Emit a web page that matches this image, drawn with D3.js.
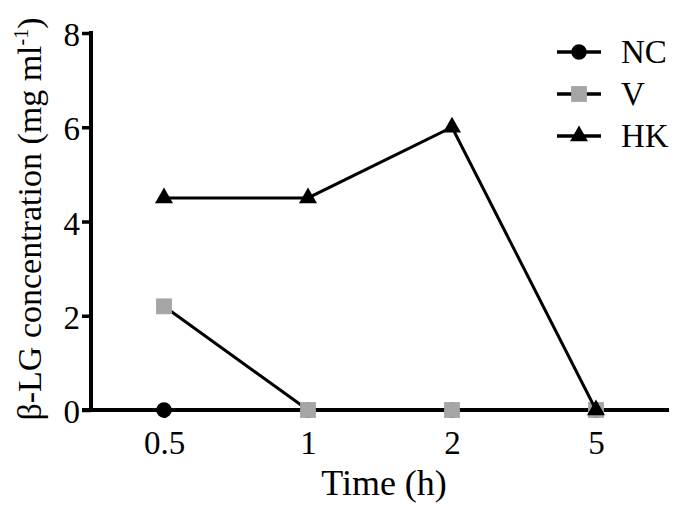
<!DOCTYPE html>
<html>
<head>
<meta charset="utf-8">
<script src="https://cdn.jsdelivr.net/npm/d3@7"></script>
<style>
  body { margin: 0; background: #fff; }
  text { font-family: "Liberation Serif", "Times New Roman", serif; fill: #000; }
</style>
</head>
<body>
<svg id="chart" width="680" height="512"></svg>
<script>
const times = ['0.5', '1', '2', '5'];
const ncValues = [0, 0, 0, 0];
const vValues = [2.2, 0, 0, 0];
const hkValues = [4.5, 4.5, 6.0, 0];
const yTicks = [0, 2, 4, 6, 8];

const seriesList = [
    { name: 'NC', values: ncValues, symbol: d3.symbolCircle, size: 190, fill: '#000' },
    { name: 'V', values: vValues, symbol: d3.symbolSquare, size: 250, fill: '#a5a5a8' },
    { name: 'HK', values: hkValues, symbol: d3.symbolTriangle, size: 140, fill: '#000' }
];

const svg = d3.select('#chart');

const x = d3.scalePoint()
    .domain(times)
    .range([164, 596]);

const y = d3.scaleLinear()
    .domain([0, 8])
    .range([410, 33]);

// y axis
const yAxis = svg.append('g')
    .attr('transform', 'translate(91,0)')
    .call(d3.axisLeft(y).tickValues(yTicks).tickSize(9).tickPadding(2));
yAxis.select('.domain').attr('stroke-width', 4).attr('d', 'M0,31V410');
yAxis.selectAll('.tick line').attr('stroke-width', 3.5);
yAxis.selectAll('.tick text').style('font-size', '33px').attr('dy', '0.38em');

// x axis
const xAxis = svg.append('g')
    .attr('transform', 'translate(0,410)')
    .call(d3.axisBottom(x).tickSize(8).tickPadding(13));
xAxis.select('.domain').attr('stroke-width', 4).attr('d', 'M82,0H669');
xAxis.selectAll('.tick line').attr('stroke-width', 3.5);
xAxis.selectAll('.tick text').style('font-size', '33px');

// axis titles
svg.append('text')
    .attr('x', 384)
    .attr('y', 495)
    .attr('text-anchor', 'middle')
    .style('font-size', '36px')
    .text('Time (h)');

const yTitle = svg.append('text')
    .attr('transform', 'translate(41,219) rotate(-90)')
    .attr('text-anchor', 'middle')
    .style('font-size', '34px');
yTitle.append('tspan').text('β-LG concentration (mg ml');
yTitle.append('tspan').attr('dy', -13).style('font-size', '20px').text('-1');
yTitle.append('tspan').attr('dy', 13).text(')');

const line = d3.line()
    .x((d, i) => x(times[i]))
    .y(d => y(d));

seriesList.forEach(s => {
    svg.append('path')
        .datum(s.values)
        .attr('fill', 'none')
        .attr('stroke', '#000')
        .attr('stroke-width', 3)
        .attr('d', line);

    svg.selectAll(null)
        .data(s.values)
        .enter().append('path')
        .attr('transform', (d, i) => `translate(${x(times[i])},${y(d)})`)
        .attr('d', d3.symbol().type(s.symbol).size(s.size))
        .attr('fill', s.fill);
});

// legend
const legend = svg.append('g');
seriesList.forEach((s, i) => {
    const ly = 52 + i * 42;
    legend.append('line')
        .attr('x1', 557).attr('x2', 601)
        .attr('y1', ly).attr('y2', ly)
        .attr('stroke', '#000')
        .attr('stroke-width', 3.5);
    legend.append('path')
        .attr('transform', `translate(579,${ly})`)
        .attr('d', d3.symbol().type(s.symbol).size(s.size))
        .attr('fill', s.fill);
    legend.append('text')
        .attr('x', 621)
        .attr('y', ly)
        .attr('dy', '0.34em')
        .style('font-size', '33px')
        .text(s.name);
});
</script>
</body>
</html>
